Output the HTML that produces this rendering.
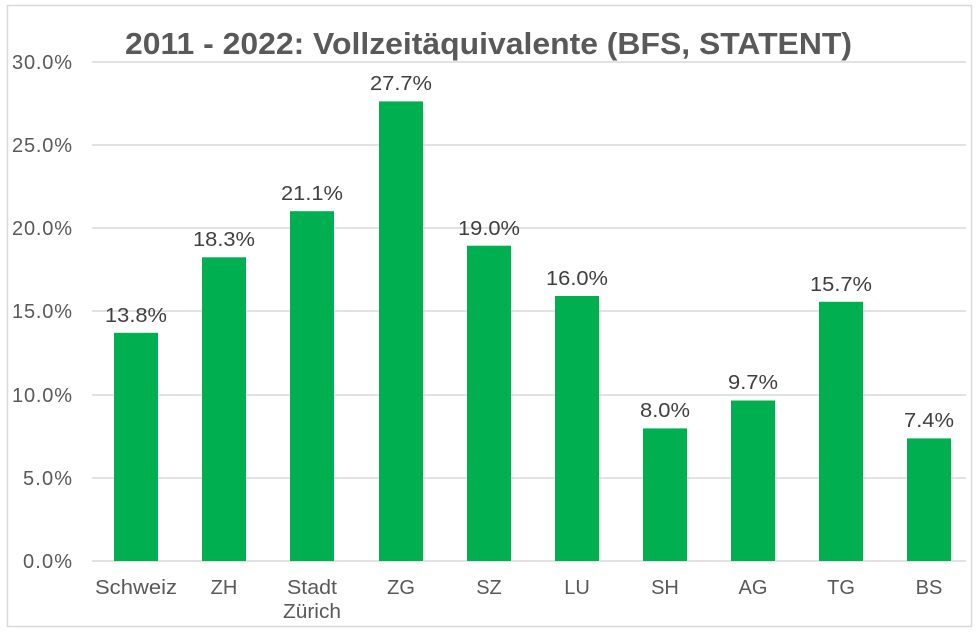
<!DOCTYPE html>
<html><head><style>body{margin:0;background:#fff}svg{display:block}</style></head><body>
<svg width="977" height="634" xmlns="http://www.w3.org/2000/svg" font-family="Liberation Sans, Arial, sans-serif">
<rect x="0" y="0" width="977" height="634" fill="#fff"/>
<rect x="7.5" y="5.5" width="964" height="621" fill="none" stroke="#d9d9d9" stroke-width="1.5"/>
<text x="125" y="54" font-size="31" font-weight="bold" fill="#595959" textLength="727" lengthAdjust="spacingAndGlyphs">2011  - 2022: Vollzeitäquivalente (BFS, STATENT)</text>
<g stroke="#d9d9d9" stroke-width="1.5">
<line x1="92" x2="966" y1="62" y2="62"/><line x1="92" x2="966" y1="145" y2="145"/><line x1="92" x2="966" y1="228" y2="228"/><line x1="92" x2="966" y1="311" y2="311"/><line x1="92" x2="966" y1="395" y2="395"/><line x1="92" x2="966" y1="478" y2="478"/><line x1="92" x2="966" y1="561" y2="561"/>
</g>
<g font-size="20" fill="#595959" text-anchor="end" lengthAdjust="spacingAndGlyphs">
<text x="72" y="69" textLength="60">30.0%</text><text x="72" y="152" textLength="60">25.0%</text><text x="72" y="235" textLength="60">20.0%</text><text x="72" y="318" textLength="60">15.0%</text><text x="72" y="402" textLength="60">10.0%</text><text x="72" y="485" textLength="49">5.0%</text><text x="72" y="568" textLength="49">0.0%</text>
</g>
<g fill="#00b050">
<rect x="114" y="332.8" width="44" height="228.2"/>
<rect x="202" y="257.3" width="44" height="303.7"/>
<rect x="290" y="211.2" width="44" height="349.8"/>
<rect x="379" y="101.4" width="44" height="459.6"/>
<rect x="467" y="245.7" width="44" height="315.3"/>
<rect x="555" y="296" width="44" height="265"/>
<rect x="643" y="428.4" width="44" height="132.6"/>
<rect x="731" y="400.5" width="44" height="160.5"/>
<rect x="819" y="301.8" width="44" height="259.2"/>
<rect x="907" y="438.4" width="44" height="122.6"/>
</g>
<g font-size="20" fill="#404040" text-anchor="middle">
<text x="136" y="322" textLength="62" lengthAdjust="spacingAndGlyphs">13.8%</text><text x="224" y="246" textLength="62" lengthAdjust="spacingAndGlyphs">18.3%</text><text x="312" y="200" textLength="62" lengthAdjust="spacingAndGlyphs">21.1%</text><text x="401" y="90" textLength="62" lengthAdjust="spacingAndGlyphs">27.7%</text><text x="489" y="235" textLength="62" lengthAdjust="spacingAndGlyphs">19.0%</text><text x="577" y="285" textLength="62" lengthAdjust="spacingAndGlyphs">16.0%</text><text x="665" y="417" textLength="50" lengthAdjust="spacingAndGlyphs">8.0%</text><text x="753" y="389" textLength="50" lengthAdjust="spacingAndGlyphs">9.7%</text><text x="841" y="291" textLength="62" lengthAdjust="spacingAndGlyphs">15.7%</text><text x="929" y="427" textLength="50" lengthAdjust="spacingAndGlyphs">7.4%</text>
</g>
<g font-size="20" fill="#595959" text-anchor="middle">
<text x="136" y="594" textLength="82" lengthAdjust="spacingAndGlyphs">Schweiz</text><text x="224" y="594">ZH</text><text x="312" y="594" textLength="50" lengthAdjust="spacingAndGlyphs">Stadt</text><text x="312" y="618" textLength="58" lengthAdjust="spacingAndGlyphs">Zürich</text><text x="401" y="594">ZG</text><text x="489" y="594">SZ</text><text x="577" y="594">LU</text><text x="665" y="594">SH</text><text x="753" y="594">AG</text><text x="841" y="594">TG</text><text x="929" y="594">BS</text>
</g>
</svg>
</body></html>
